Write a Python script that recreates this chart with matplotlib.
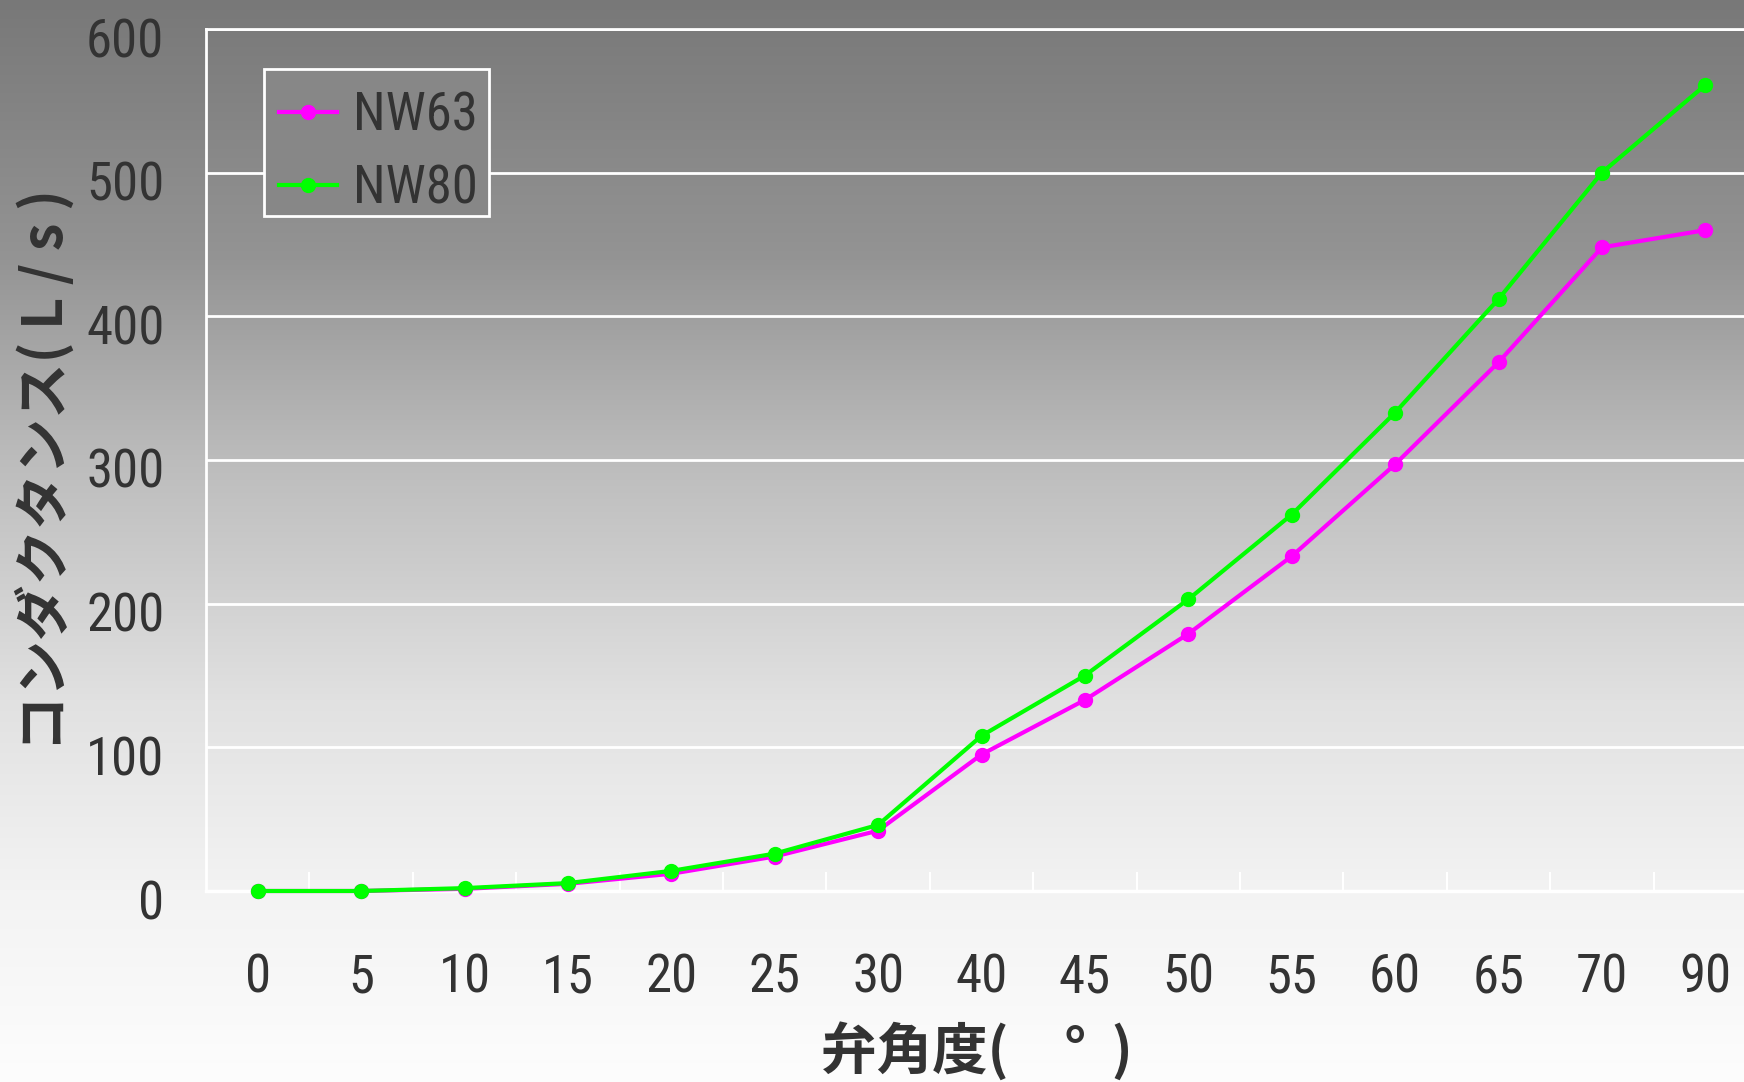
import numpy as np
import matplotlib
matplotlib.use("Agg")
import matplotlib.pyplot as plt
import matplotlib.transforms as mtransforms
from matplotlib import font_manager
from matplotlib.font_manager import FontProperties
from matplotlib.patches import Rectangle

# ---- data ----
angles = ["0", "5", "10", "15", "20", "25", "30", "40", "45", "50", "55", "60", "65", "70", "90"]
nw63 = [0, 0, 1.5, 5, 12, 24, 42, 95, 133, 179, 233, 297, 368, 448, 460]
nw80 = [0, 0, 2, 5.5, 14, 26, 46, 108, 150, 203, 262, 333, 412, 500, 561]
series_names = ["NW63", "NW80"]
y_ticks = [0, 100, 200, 300, 400, 500, 600]

# ---- pick a condensed font if one exists ----
def pick_narrow():
    ttf = font_manager.fontManager.ttflist
    prefs = ["Liberation Sans Narrow", "Arial Narrow", "Roboto Condensed", "Open Sans Condensed"]
    for p in prefs:
        for f in ttf:
            if f.name == p and f.weight in (400, "normal", "regular") and f.style == "normal":
                return FontProperties(fname=f.fname), True
    for f in ttf:
        fn = f.fname.lower()
        if "dejavusanscondensed.ttf" in fn:
            return FontProperties(fname=f.fname), True
    for f in ttf:
        if ("narrow" in f.fname.lower() or "condensed" in f.fname.lower()) and "bold" not in f.fname.lower() \
                and "oblique" not in f.fname.lower() and "italic" not in f.fname.lower() and "mono" not in f.fname.lower() \
                and "serif" not in f.fname.lower().replace("sans", ""):
            return FontProperties(fname=f.fname), True
    return FontProperties(family="Liberation Sans"), False

num_fp, is_narrow = pick_narrow()
num_size = 38 if is_narrow else 35
num_fp.set_size(num_size)
cjk = ["Noto Sans CJK JP", "DejaVu Sans"]
txt_color = "#333333"

W, H = 1744, 1082
fig = plt.figure(figsize=(W / 100, H / 100), dpi=100)

# background gradient
bg = fig.add_axes([0, 0, 1, 1], zorder=-10)
ys = np.arange(H)
g = np.interp(ys, [0, 260, 460, 700, 890, 1082], [120, 148, 188, 225, 243, 253]) / 255.0
img = np.repeat(g[:, None], 4, axis=1)
bg.imshow(np.dstack([img, img, img]), aspect="auto", extent=[0, 1, 0, 1], interpolation="bilinear")
bg.set_axis_off()

left, right, top, bottom = 206, 1757, 29, 891
ax = fig.add_axes([left / W, 1 - bottom / H, (right - left) / W, (bottom - top) / H])
ax.set_facecolor("none")

x = np.arange(len(angles))
ax.plot(x, nw63, color="#ff00ff", lw=3, marker="o", ms=10, label=series_names[0], zorder=3,
        clip_on=False)
ax.plot(x, nw80, color="#00ff00", lw=3, marker="o", ms=10, label=series_names[1], zorder=4,
        clip_on=False)

ax.set_xlim(-0.5, len(angles) - 0.5)
ax.set_ylim(0, 600)

ax.spines["right"].set_visible(False)
for s in ["left", "top", "bottom"]:
    ax.spines[s].set_color("white")
    ax.spines[s].set_linewidth(2)
ax.spines["bottom"].set_linewidth(2.5)

ax.set_yticks(y_ticks)
ax.yaxis.grid(True, color="white", lw=2)
ax.set_axisbelow(True)
ax.tick_params(axis="y", length=0, pad=30, labelcolor=txt_color)

ax.set_xticks(x)
ax.set_xticklabels(angles)
ax.set_xticks(np.arange(0.5, len(angles) - 0.5, 1), minor=True)
ax.tick_params(axis="x", which="major", length=0, pad=44, labelcolor=txt_color)
ax.tick_params(axis="x", which="minor", direction="in", length=14, width=1.5, color="white")

for lab in ax.get_xticklabels() + ax.get_yticklabels():
    lab.set_fontproperties(num_fp)
off = mtransforms.ScaledTranslation(0, -8 / 100, fig.dpi_scale_trans)
for lab in ax.get_yticklabels():
    lab.set_transform(lab.get_transform() + off)

# legend box (frame drawn separately so its padding can be asymmetric)
box = Rectangle((264 / W, 1 - 216 / H), (489 - 264) / W, (216 - 69) / H, transform=fig.transFigure,
                facecolor="#878787", edgecolor="white", linewidth=2, zorder=5)
ax.add_artist(box)
box.set_clip_on(False)

leg = ax.legend(loc="upper left", bbox_to_anchor=(258 / W, 1 - 69 / H), bbox_transform=fig.transFigure,
                borderaxespad=0, frameon=False, handlelength=1.1, handletextpad=0.3,
                borderpad=0.4, labelspacing=0.42, prop=num_fp)
leg.set_zorder(6)
for t in leg.get_texts():
    t.set_color(txt_color)

fig.text(45 / W, 1 - 470 / H, "コンダクタンス( L / s )", rotation=90, ha="center", va="center",
         family=cjk, fontsize=40, fontweight="bold", color=txt_color)
fig.text(821 / W, 1 - 1051 / H, "弁角度(　°  )", ha="left", va="center",
         family=cjk, fontsize=40, fontweight="bold", color=txt_color)

fig.savefig("out.png", dpi=100)
